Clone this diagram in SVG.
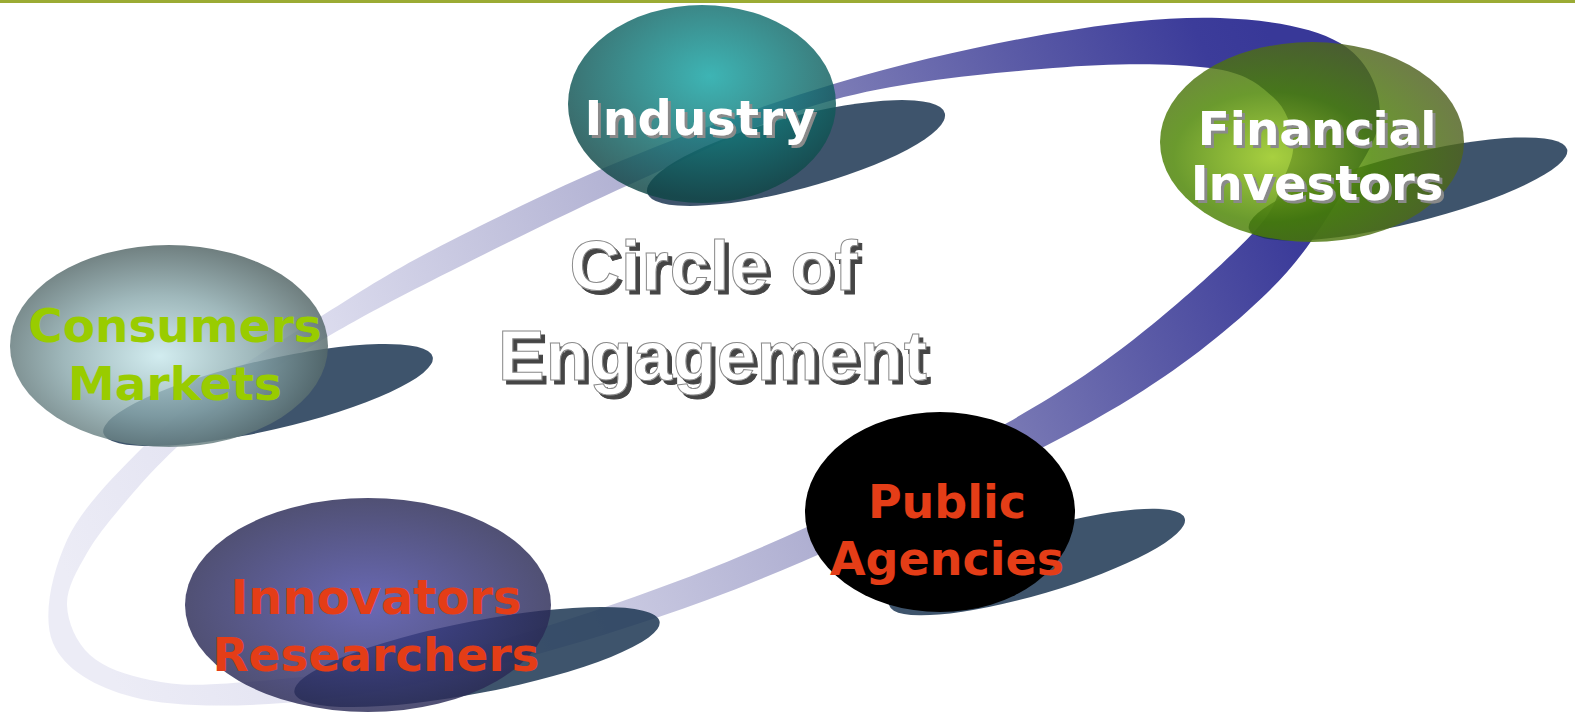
<svg xmlns="http://www.w3.org/2000/svg" width="1575" height="715" viewBox="0 0 1575 715">
<defs>
  <linearGradient id="bandGrad" gradientUnits="userSpaceOnUse" x1="100" y1="650" x2="1300" y2="100">
    <stop offset="0" stop-color="#ececf6"/>
    <stop offset="0.25" stop-color="#dcdcee"/>
    <stop offset="0.4" stop-color="#c4c4de"/>
    <stop offset="0.52" stop-color="#b0b0d2"/>
    <stop offset="0.68" stop-color="#7c7cb6"/>
    <stop offset="0.82" stop-color="#5a5aa6"/>
    <stop offset="0.95" stop-color="#3c3c9a"/>
    <stop offset="1" stop-color="#383898"/>
  </linearGradient>
  <radialGradient id="gIndustry" cx="0.53" cy="0.36" r="0.62">
    <stop offset="0" stop-color="#13a4a4"/>
    <stop offset="1" stop-color="#0f4646"/>
  </radialGradient>
  <radialGradient id="gFinancial" cx="0.37" cy="0.575" r="0.65">
    <stop offset="0" stop-color="#95c616"/>
    <stop offset="0.5" stop-color="#4a8400"/>
    <stop offset="1" stop-color="#4f6020"/>
  </radialGradient>
  <radialGradient id="gConsumers" cx="0.47" cy="0.55" r="0.6">
    <stop offset="0" stop-color="#c8e8ec"/>
    <stop offset="0.5" stop-color="#8aa8ac"/>
    <stop offset="1" stop-color="#455656"/>
  </radialGradient>
  <radialGradient id="gInnovators" cx="0.5" cy="0.5" r="0.6">
    <stop offset="0" stop-color="#4848a4"/>
    <stop offset="1" stop-color="#242446"/>
  </radialGradient>
  <filter id="dropGray" x="-5%" y="-10%" width="115%" height="130%">
    <feOffset in="SourceAlpha" dx="3" dy="3" result="off"/>
    <feFlood flood-color="#8a8a8a"/>
    <feComposite in2="off" operator="in" result="sh"/>
    <feMerge><feMergeNode in="sh"/><feMergeNode in="SourceGraphic"/></feMerge>
  </filter>
  <filter id="dropDark" x="-5%" y="-10%" width="115%" height="130%">
    <feOffset in="SourceAlpha" dx="4" dy="4" result="off"/>
    <feFlood flood-color="#444444"/>
    <feComposite in2="off" operator="in" result="sh"/>
    <feMerge><feMergeNode in="sh"/><feMergeNode in="SourceGraphic"/></feMerge>
  </filter>
</defs>
<style>
  .shadow { fill: #1c3652; opacity: 0.85; }
  .node { opacity: 0.82; }
  .lbl { font-family: "DejaVu Sans", Verdana, sans-serif; font-weight: bold; text-anchor: middle; }
  .white { fill: #ffffff; filter: url(#dropGray); }
  .green { fill: #99cc00; }
  .red { fill: #e43d17; }
  .title { font-family: "Liberation Sans", Arial, sans-serif; font-weight: bold; font-size: 70px; text-anchor: middle; fill: #ffffff; stroke: #8a8a8a; stroke-width: 1; filter: url(#dropDark); }
</style>

<rect x="0" y="0" width="1575" height="715" fill="#ffffff"/>
<rect x="0" y="0" width="1575" height="3" fill="#9bab34"/>

<g id="connectors">
  <path fill="url(#bandGrad)" fill-rule="evenodd" d="M320,317 C353.8,296.2 382.5,276.2 433,250 C483.5,223.8 555.7,187.8 623,160 C690.3,132.2 765.3,104.2 837,83 C908.7,61.8 989.2,43.8 1053,33 C1116.8,22.2 1172.2,16.3 1220,18 C1267.8,19.7 1313.3,27.2 1340,43 C1366.7,58.8 1380,87.3 1380,113 C1380,138.7 1358.8,167 1340,197 C1321.2,227 1301.5,259.7 1267,293 C1232.5,326.3 1189.2,362 1133,397 C1076.8,432 1001,469.2 930,503 C859,536.8 783.7,571.8 707,600 C630.3,628.2 540.7,654.8 470,672 C399.3,689.2 339.2,698.8 283,703 C226.8,707.2 171.3,707 133,697 C94.7,687 64,669.2 53,643 C42,616.8 52,572.7 67,540 C82,507.3 115.8,474.5 143,447 C170.2,419.5 200.5,396.7 230,375 C259.5,353.3 286.2,337.8 320,317 Z M327,337 C357.5,319.5 382,305.7 433,280 C484,254.3 566.3,213 633,183 C699.7,153 763,119.2 833,100 C903,80.8 990.2,73.3 1053,68 C1115.8,62.7 1173.3,63.2 1210,68 C1246.7,72.8 1259.2,85 1273,97 C1286.8,109 1291.3,126.2 1293,140 C1294.7,153.8 1289.7,164.5 1283,180 C1276.3,195.5 1278,206.3 1253,233 C1228,259.7 1174,308.3 1133,340 C1092,371.7 1061.3,391.8 1007,423 C952.7,454.2 872,497 807,527 C742,557 681.5,580.8 617,603 C552.5,625.2 484,646.7 420,660 C356,673.3 278,679.7 233,683 C188,686.3 173.8,684.7 150,680 C126.2,675.3 103.8,667.5 90,655 C76.2,642.5 67.5,622 67,605 C66.5,588 77,570.5 87,553 C97,535.5 112,517.7 127,500 C142,482.3 156.5,466.2 177,447 C197.5,427.8 225,403.3 250,385 C275,366.7 296.5,354.5 327,337 Z"/>
</g>

<g id="node-industry">
  <ellipse class="shadow" cx="796" cy="153" rx="154" ry="36" transform="rotate(-15 796 153)"/>
  <ellipse class="node" cx="702" cy="104" rx="134" ry="99" fill="url(#gIndustry)"/>
  <text class="lbl white" x="700" y="135" font-size="48" letter-spacing="0.5">Industry</text>
</g>

<g id="node-financial">
  <ellipse class="shadow" cx="1408" cy="189" rx="164" ry="34" transform="rotate(-14 1408 189)"/>
  <ellipse class="node" cx="1312" cy="142" rx="152" ry="100" fill="url(#gFinancial)"/>
  <text class="lbl white" x="1317" y="145" font-size="47">Financial</text>
  <text class="lbl white" x="1317" y="200" font-size="48">Investors</text>
</g>

<g id="node-consumers">
  <ellipse class="shadow" cx="268" cy="395" rx="169" ry="35" transform="rotate(-13 268 395)"/>
  <ellipse class="node" cx="169" cy="346" rx="159" ry="101" fill="url(#gConsumers)"/>
  <text class="lbl green" x="175" y="342" font-size="47">Consumers</text>
  <text class="lbl green" x="175" y="400" font-size="47">Markets</text>
</g>

<g id="node-innovators">
  <ellipse class="shadow" cx="477" cy="657" rx="186" ry="36" transform="rotate(-11 477 657)"/>
  <ellipse class="node" cx="368" cy="605" rx="183" ry="107" fill="url(#gInnovators)"/>
  <text class="lbl red" x="376" y="614" font-size="48">Innovators</text>
  <text class="lbl red" x="376" y="671" font-size="47">Researchers</text>
</g>

<g id="node-public">
  <ellipse class="shadow" cx="1037" cy="562" rx="154" ry="32" transform="rotate(-16.4 1037 562)"/>
  <ellipse cx="940" cy="512" rx="135" ry="100" fill="#000000"/>
  <text class="lbl red" x="947" y="518" font-size="46">Public</text>
  <text class="lbl red" x="947" y="575" font-size="46">Agencies</text>
</g>

<g id="title">
  <text class="title" x="714" y="290" letter-spacing="1">Circle of</text>
  <text class="title" x="713" y="380" letter-spacing="1">Engagement</text>
</g>
</svg>
